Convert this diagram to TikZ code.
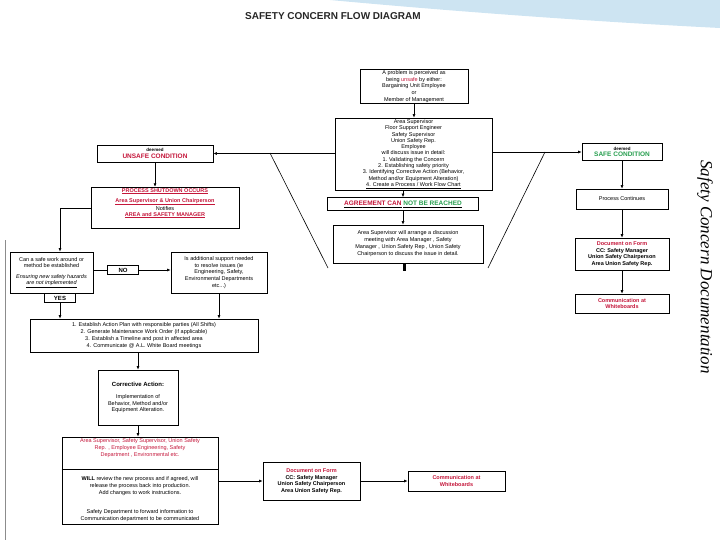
\documentclass[tikz,border=0pt]{standalone}
\usepackage{fontspec}
\setmainfont{Liberation Sans}
\newfontfamily\serifit{Liberation Serif}
\usetikzlibrary{arrows.meta,positioning,calc}
\definecolor{alarmred}{RGB}{196,22,58}
\definecolor{okgreen}{RGB}{38,158,78}
\definecolor{swoosh}{RGB}{205,228,242}
\newcommand{\rtext}[1]{\textcolor{alarmred}{#1}}
\newcommand{\gtext}[1]{\textcolor{okgreen}{#1}}

\begin{document}
\begin{tikzpicture}[x=1pt, y=-1pt,
  box/.style={draw, line width=0.7pt, align=center, inner sep=1pt, font=\fontsize{5.5}{6.6}\selectfont},
  tag/.style={draw, line width=1.2pt, inner sep=0.5pt, minimum width=31pt, minimum height=9pt, font=\fontsize{6}{7}\selectfont\bfseries},
  arr/.style={-{Latex[length=3.5pt,width=3pt]}, line width=0.6pt},
  link/.style={line width=0.6pt}
]
\useasboundingbox (0,0) rectangle (720,540);

% slide background
\fill[swoosh] (330,0) -- (720,0) -- (720,28) .. controls (600,22) and (460,12) .. (330,0);
\draw[black!45, line width=0.8pt] (5,240) -- (5,540);

\node[font=\fontsize{10}{11}\selectfont\bfseries, text=black!85] (title) at (333,16) {SAFETY CONCERN FLOW DIAGRAM};
\node[rotate=-90, font=\serifit\itshape\fontsize{17}{17}\selectfont] (doctitle) at (705,267) {Safety Concern Documentation};

% centre column
\node[box, minimum width=108pt, minimum height=33pt] (problem) at (414,86.5)
  {A problem is perceived as\\being \rtext{unsafe} by either:\\Bargaining Unit Employee\\or\\Member of Management};
\node[box, minimum width=157pt, minimum height=72pt, font=\fontsize{5.5}{6.3}\selectfont] (discuss) at (413.5,154)
  {Area Supervisor\\Floor Support Engineer\\Safety Supervisor\\Union Safety Rep.\\Employee\\will discuss issue in detail:\\1. Validating the Concern\\2. Establishing safety priority\\3. Identifying Corrective Action (Behavior,\\Method and/or Equipment Alteration)\\\underline{4. Create a Process / Work Flow Chart}};
\node[box, minimum width=151pt, minimum height=13pt, font=\fontsize{6.5}{7}\selectfont\bfseries] (agree) at (403,204)
  {\underline{\rtext{AGREEMENT CAN}} \underline{\gtext{NOT BE REACHED}}};
\node[box, minimum width=150pt, minimum height=38pt, font=\fontsize{5.5}{7}\selectfont] (meeting) at (408,244)
  {Area Supervisor will arrange a discussion\\meeting with Area Manager , Safety\\Manager , Union Safety Rep , Union Safety\\Chairperson to discuss the issue in detail.};
\coordinate (stub) at (404,271);
\coordinate (lefthit) at (270,153);
\coordinate (leftfoot) at (328,268);
\coordinate (righthit) at (545,152);
\coordinate (rightfoot) at (488,268);

% right column
\node[box, minimum width=80pt, minimum height=17pt] (safe) at (622,152)
  {{\fontsize{4.5}{5}\selectfont\bfseries deemed}\\{\fontsize{6.5}{7}\selectfont\bfseries\gtext{SAFE CONDITION}}};
\node[box, minimum width=92pt, minimum height=20pt] (continues) at (622,199) {Process Continues};
\node[box, minimum width=94pt, minimum height=32pt, font=\fontsize{5.5}{6.6}\selectfont\bfseries] (docform) at (622,254)
  {\rtext{Document on Form}\\CC: Safety Manager\\Union Safety Chairperson\\Area Union Safety Rep.};
\node[box, minimum width=94pt, minimum height=19pt, font=\fontsize{5.5}{6.6}\selectfont\bfseries] (comm) at (622,303.5)
  {\rtext{Communication at}\\\rtext{Whiteboards}};

% left column
\node[box, minimum width=116pt, minimum height=17pt] (unsafe) at (155,153.5)
  {{\fontsize{4.5}{5}\selectfont\bfseries deemed}\\{\fontsize{6.5}{7}\selectfont\bfseries\rtext{UNSAFE CONDITION}}};
\node[box, minimum width=148pt, minimum height=40pt, font=\fontsize{5.5}{5.8}\selectfont] (shutdown) at (165,208)
  {\rtext{\bfseries\underline{PROCESS SHUTDOWN OCCURS}}\\[3pt]\rtext{\bfseries\underline{Area Supervisor \& Union Chairperson}}\\Notifies\\\rtext{\bfseries\underline{AREA and SAFETY MANAGER}}\\[6pt]};
\node[box, minimum width=83pt, minimum height=41pt, font=\fontsize{5.5}{6.5}\selectfont] (canwork) at (51.5,272.5)
  {Can a safe work around or\\method be established\\[4pt]\itshape Ensuring new safety hazards\\\itshape\underline{are not implemented}};
\node[box, minimum width=96pt, minimum height=41pt] (additional) at (219,272.5)
  {Is additional support needed\\to resolve issues (ie\\Engineering, Safety,\\Environmental Departments\\etc...)};
\node[tag] (no) at (123,270) {NO};
\node[tag] (yes) at (60,298) {YES};
\node[box, minimum width=228pt, minimum height=33pt, font=\fontsize{5.5}{7}\selectfont] (action) at (144,335.5)
  {1. Establish Action Plan with responsible parties (All Shifts)\\2. Generate Maintenance Work Order (if applicable)\\3. Establish a Timeline and post in affected area\\4. Communicate @ A.L. White Board meetings};
\node[box, minimum width=80pt, minimum height=55pt, font=\fontsize{5.5}{6.3}\selectfont] (corrective) at (138,397.5)
  {{\fontsize{6}{7}\selectfont\bfseries Corrective Action:}\\[6pt]Implementation of\\Behavior, Method and/or\\Equipment Alteration.};
\node[box, minimum width=156pt, minimum height=87pt, font=\fontsize{5.5}{7}\selectfont] (review) at (140,480.5)
  {\rtext{Area Supervisor, Safety Supervisor, Union Safety}\\\rtext{Rep. , Employee Engineering, Safety}\\\rtext{Department , Environmental etc.}\\[17pt]\textbf{WILL} review the new process and if agreed, will\\release the process back into production.\\Add changes to work instructions.\\[12pt]Safety Department to forward information to\\Communication department to be communicated};
\draw[link] ([yshift=-33pt]review.north west) -- ([yshift=-33pt]review.north east);
\node[box, minimum width=97pt, minimum height=38pt, font=\fontsize{5.5}{6.6}\selectfont\bfseries] (docform2) at (311.5,481)
  {\rtext{Document on Form}\\CC: Safety Manager\\Union Safety Chairperson\\Area Union Safety Rep.};
\node[box, minimum width=97pt, minimum height=20pt, font=\fontsize{5.5}{6.6}\selectfont\bfseries] (comm2) at (456.5,481)
  {\rtext{Communication at}\\\rtext{Whiteboards}};

% connectors
\draw[arr] (problem.south) -- (problem.south |- discuss.north);
\draw[arr] (discuss.west |- unsafe) -- (unsafe.east);
\draw[arr] (discuss.east |- safe) -- (safe.west);
\draw[arr] (discuss.south -| agree) -- (agree.north);
\draw[arr] (agree.south) -- (agree.south |- meeting.north);
\draw[line width=3pt] (meeting.south -| stub) -- (stub);
\draw[link] (lefthit) -- (leftfoot);
\draw[link] (righthit) -- (rightfoot);

\draw[arr] (safe) -- (continues);
\draw[arr] (continues) -- (docform);
\draw[arr] (docform) -- (comm);

\draw[arr] (unsafe.south) -- (unsafe.south |- shutdown.north);
\draw[arr] (shutdown.west) -| (yes |- canwork.north);
\draw[link] (canwork.east |- no) -- (no.west);
\draw[arr] (no.east) -- (no.east -| additional.west);
\draw[arr] (yes.south) -- (yes.south |- action.north);
\draw[arr] (additional.south) -- (additional.south |- action.north);
\draw[arr] (action.south -| corrective) -- (corrective.north);
\draw[arr] (corrective.south) -- (corrective.south |- review.north);
\draw[arr] (review.east |- docform2) -- (docform2.west);
\draw[arr] (docform2.east) -- (comm2.west);

\end{tikzpicture}
\end{document}
